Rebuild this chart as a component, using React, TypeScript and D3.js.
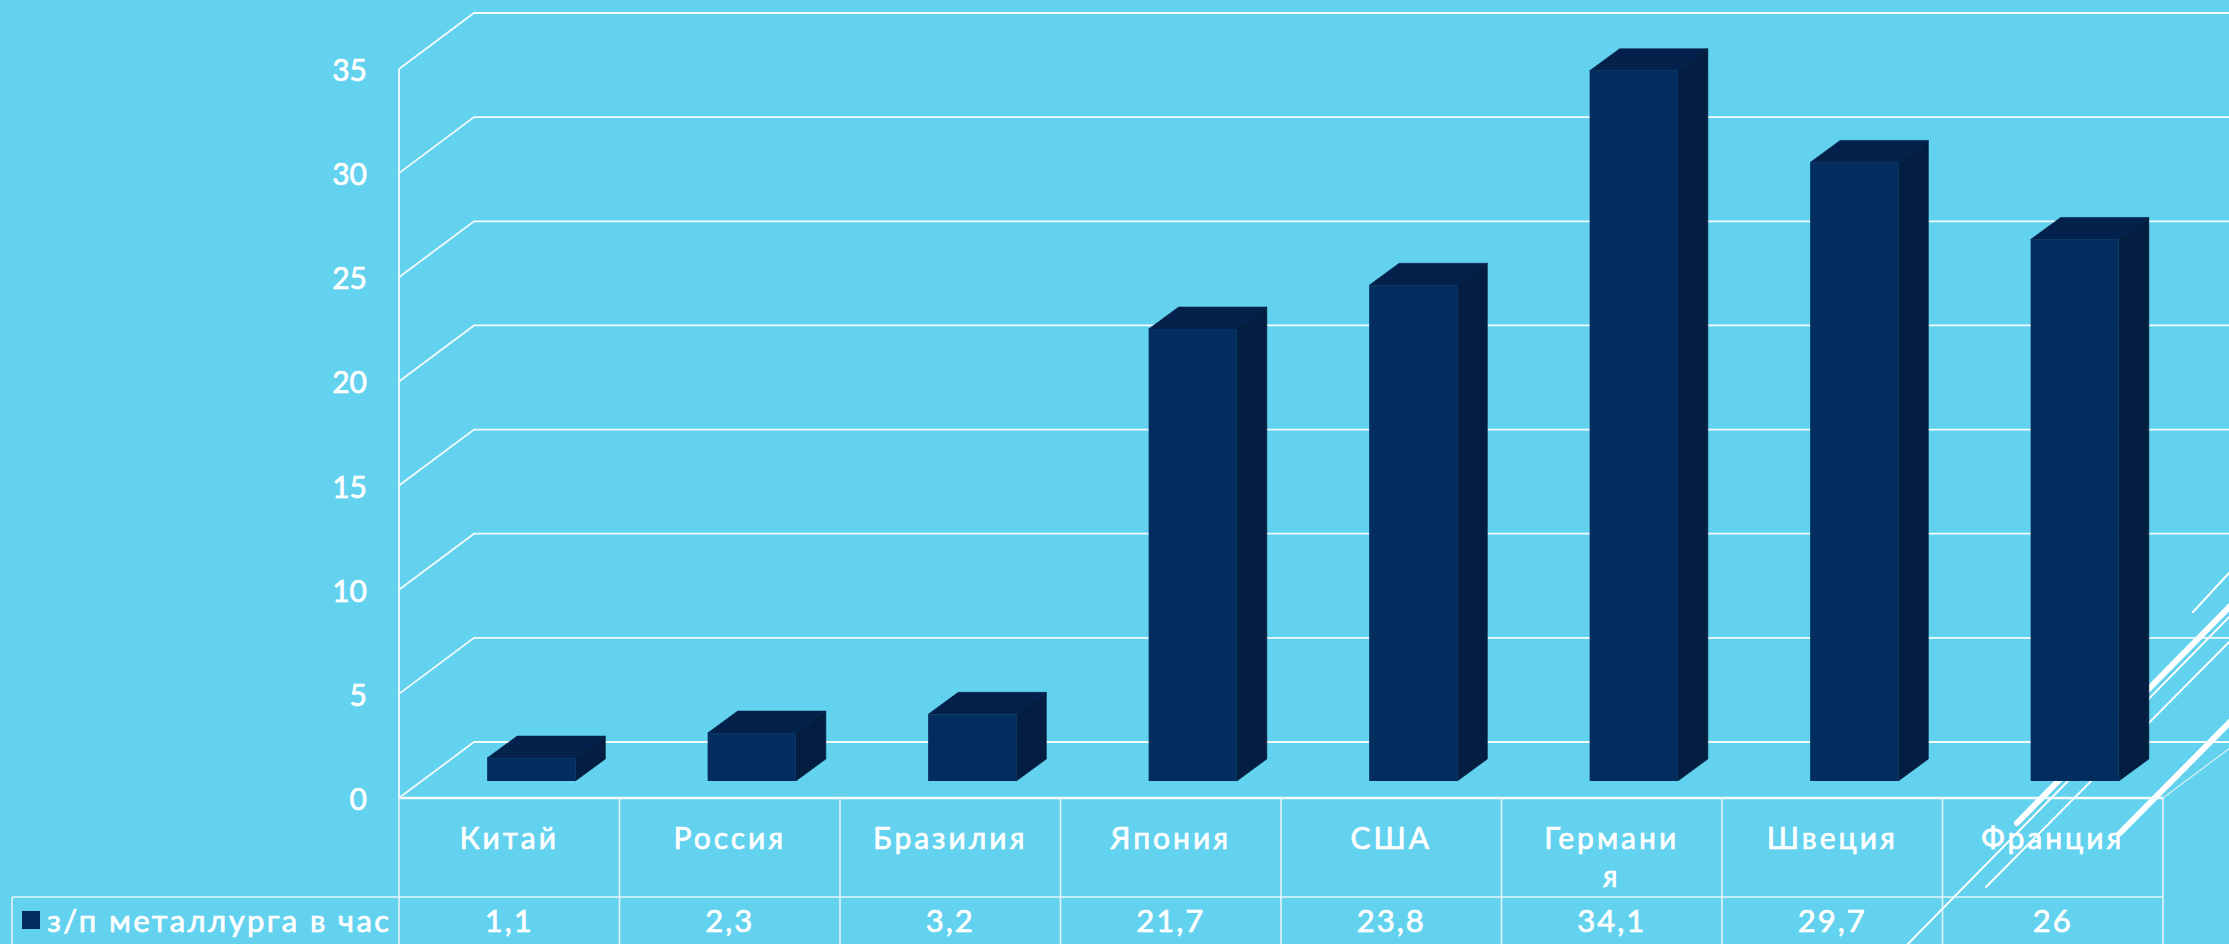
import React, { useRef, useEffect } from "react";
import * as d3 from "d3";

const categories = ["Китай", "Россия", "Бразилия", "Япония", "США", "Германия", "Швеция", "Франция"];
const wages = [1.1, 2.3, 3.2, 21.7, 23.8, 34.1, 29.7, 26];
const valueLabels = ["1,1", "2,3", "3,2", "21,7", "23,8", "34,1", "29,7", "26"];
const yTicks = [0, 5, 10, 15, 20, 25, 30, 35];
const seriesName = "з/п металлурга в час";

// slide background streaks, they sit behind the chart
const streaks = [
  { from: [2017, 823], to: [2240, 596], w: 6 },
  { from: [1900, 952], to: [2240, 606], w: 2 },
  { from: [1986, 887], to: [2240, 631], w: 2 },
  { from: [2120, 833], to: [2240, 712], w: 6 },
  { from: [2193, 612], to: [2240, 561], w: 2 },
];

const WIDTH = 2229;
const HEIGHT = 944;
const FONT = "Lato, sans-serif";
const BG = "#62d2ef";

export default function App() {
  const svgRef = useRef<SVGSVGElement>(null);

  useEffect(() => {
    if (!svgRef.current) return;
    const svg = d3.select(svgRef.current);
    svg.selectAll("*").remove();

    const left = 399;
    const right = 2163;
    const floorY = 798;
    const rowY = 897;
    const tableLeft = 12;
    const backDx = 75;
    const backDy = -56;
    const barShiftX = 22;
    const barShiftY = -17;
    const depthX = 30;
    const depthY = -22;

    const yScale = d3.scaleLinear().domain([0, 35]).range([floorY, 69]);
    const xBand = d3
      .scaleBand<string>()
      .domain(categories)
      .range([left, right])
      .paddingInner(0.6)
      .paddingOuter(0.3);
    const xCell = d3.scaleBand<string>().domain(categories).range([left, right]);

    svg
      .append("rect")
      .attr("width", WIDTH)
      .attr("height", HEIGHT)
      .attr("fill", BG);

    svg
      .append("g")
      .selectAll("line")
      .data(streaks)
      .join("line")
      .attr("x1", (d) => d.from[0])
      .attr("y1", (d) => d.from[1])
      .attr("x2", (d) => d.to[0])
      .attr("y2", (d) => d.to[1])
      .attr("stroke", "#fff")
      .attr("stroke-width", (d) => d.w)
      .attr("stroke-linecap", "round");

    // Walls
    const grid = svg.append("g");
    grid
      .selectAll("path")
      .data(yTicks)
      .join("path")
      .attr("fill", "none")
      .attr("stroke", "#f4fbfe")
      .attr("stroke-width", 1.8)
      .attr("d", (d) => {
        const y = yScale(d);
        return `M${left},${y}L${left + backDx},${y + backDy}H${WIDTH + 5}`;
      });
    grid
      .append("line")
      .attr("x1", left)
      .attr("x2", left)
      .attr("y1", yScale(35))
      .attr("y2", floorY)
      .attr("stroke", "#f4fbfe")
      .attr("stroke-width", 1.8);
    grid
      .append("line")
      .attr("x1", right)
      .attr("y1", floorY)
      .attr("x2", right + backDx)
      .attr("y2", floorY + backDy)
      .attr("stroke", "#dbeef4")
      .attr("stroke-width", 1.2);

    // Bars
    const baseY = floorY + barShiftY;
    const h = (v: number) => floorY - yScale(v);
    const bw = xBand.bandwidth();
    const barX = (i: number) => (xBand(categories[i]) as number) + barShiftX;
    const bars = svg
      .append("g")
      .selectAll("g")
      .data(wages)
      .join("g");
    bars
      .append("path")
      .attr("fill", "#03214b")
      .attr("stroke", "#03214b")
      .attr("stroke-width", 0.6)
      .attr("d", (d, i) => {
        const x = barX(i);
        const y = baseY - h(d);
        return `M${x},${y}l${depthX},${depthY}h${bw}l${-depthX},${-depthY}z`;
      });
    bars
      .append("path")
      .attr("fill", "#031e40")
      .attr("stroke", "#031e40")
      .attr("stroke-width", 0.6)
      .attr("d", (d, i) => {
        const x = barX(i) + bw;
        return `M${x},${baseY}l${depthX},${depthY}v${-h(d)}l${-depthX},${-depthY}z`;
      });
    bars
      .append("rect")
      .attr("fill", "#042d5f")
      .attr("x", (d, i) => barX(i))
      .attr("y", (d) => baseY - h(d))
      .attr("width", bw)
      .attr("height", (d) => h(d));

    // Table lines
    const tableStroke = "#e3f4f9";
    const table = svg
      .append("g")
      .attr("stroke", tableStroke)
      .attr("stroke-width", 1.6);
    table
      .append("line")
      .attr("x1", left)
      .attr("x2", right)
      .attr("y1", floorY)
      .attr("y2", floorY)
      .attr("stroke", "#f4fbfe")
      .attr("stroke-width", 2.4);
    table
      .append("line")
      .attr("x1", tableLeft)
      .attr("x2", right)
      .attr("y1", rowY)
      .attr("y2", rowY);
    table
      .append("line")
      .attr("x1", tableLeft)
      .attr("x2", tableLeft)
      .attr("y1", rowY)
      .attr("y2", HEIGHT);
    table
      .selectAll("line.sep")
      .data([...categories.map((c) => xCell(c) as number), right])
      .join("line")
      .attr("class", "sep")
      .attr("x1", (d) => d)
      .attr("x2", (d) => d)
      .attr("y1", floorY)
      .attr("y2", HEIGHT);

    // Text, the thin stroke thickens Lato towards the original face
    const text = svg
      .append("g")
      .attr("font-family", FONT)
      .attr("fill", "#fff")
      .attr("stroke", "#fff")
      .attr("stroke-width", 0.7);

    text
      .selectAll("text.tick")
      .data(yTicks)
      .join("text")
      .attr("class", "tick")
      .attr("x", 367)
      .attr("y", (d) => yScale(d) + 12)
      .attr("text-anchor", "end")
      .attr("font-size", 30)
      .text((d) => d);

    const cx = (c: string) => (xCell(c) as number) + xCell.bandwidth() / 2;
    text
      .selectAll("text.cat")
      .data(categories)
      .join("text")
      .attr("class", "cat")
      .attr("x", cx)
      .attr("y", 849)
      .attr("text-anchor", "middle")
      .attr("font-size", 30)
      .attr("letter-spacing", 3)
      .each(function (d) {
        // long names wrap inside the cell
        const parts = d === "Германия" ? ["Германи", "я"] : [d];
        const node = d3.select(this);
        parts.forEach((p, i) => {
          node
            .append("tspan")
            .attr("x", cx(d))
            .attr("dy", i === 0 ? 0 : 38)
            .text(p);
        });
      });

    text
      .selectAll("text.val")
      .data(valueLabels)
      .join("text")
      .attr("class", "val")
      .attr("x", (d, i) => cx(categories[i]))
      .attr("y", 932)
      .attr("text-anchor", "middle")
      .attr("font-size", 31)
      .attr("letter-spacing", 2)
      .text((d) => d);

    svg
      .append("rect")
      .attr("x", 22)
      .attr("y", 911)
      .attr("width", 18)
      .attr("height", 18)
      .attr("fill", "#042d5f");
    text
      .append("text")
      .attr("x", 47)
      .attr("y", 932)
      .attr("font-size", 31)
      .attr("letter-spacing", 2.4)
      .text(seriesName);
  }, []);

  return (
    <svg
      ref={svgRef}
      width={WIDTH}
      height={HEIGHT}
      style={{ position: "absolute", left: 0, top: 0 }}
    ></svg>
  );
}
